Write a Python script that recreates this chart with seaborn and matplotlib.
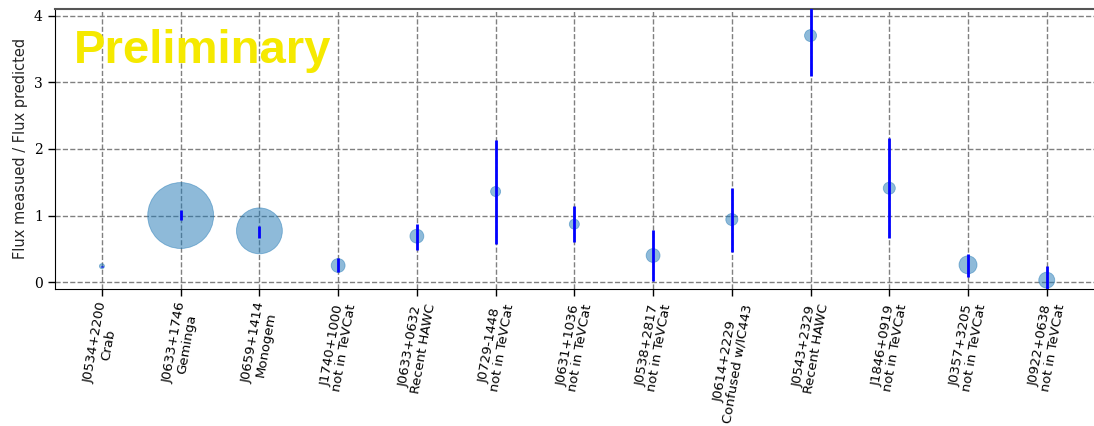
import matplotlib
matplotlib.use("Agg")
import matplotlib.pyplot as plt
import numpy as np
import pandas as pd
import seaborn as sns

# pulsar names and notes for the tick labels
names = ['J0534+2200', 'J0633+1746', 'J0659+1414', 'J1740+1000', 'J0633+0632',
         'J0729-1448', 'J0631+1036', 'J0538+2817', 'J0614+2229', 'J0543+2329',
         'J1846+0919', 'J0357+3205', 'J0922+0638']
notes = ['Crab', 'Geminga', 'Monogem', 'not in TeVCat', 'Recent HAWC',
         'not in TeVCat', 'not in TeVCat', 'not in TeVCat', 'Confused w/IC443',
         'Recent HAWC', 'not in TeVCat', 'not in TeVCat', 'not in TeVCat']

# flux ratio and error range
ratio = [0.24, 1.00, 0.77, 0.25, 0.69, 1.36, 0.87, 0.40, 0.94, 3.70, 1.41, 0.26, 0.03]
lower = [0.23, 0.94, 0.67, 0.16, 0.49, 0.58, 0.60, 0.02, 0.46, 3.10, 0.66, 0.08, -0.12]
upper = [0.25, 1.08, 0.85, 0.36, 0.88, 2.13, 1.14, 0.78, 1.42, 4.30, 2.16, 0.43, 0.25]
# marker area
msize = [13, 2250, 1090, 100, 100, 52, 52, 100, 75, 75, 75, 168, 132]

df = pd.DataFrame({'x': np.arange(len(names)), 'ratio': ratio,
                   'lower': lower, 'upper': upper, 'msize': msize})

sns.set_style("white")
fig = plt.figure(figsize=(10.94, 4.26), dpi=100)
ax = fig.add_axes([0.05, 0.322, 0.95, 0.657])

sns.scatterplot(data=df, x='x', y='ratio', size='msize',
                sizes=(min(msize), max(msize)), size_norm=(min(msize), max(msize)),
                color='#1f77b4', alpha=0.5, edgecolor='#1f77b4', linewidth=0.6,
                legend=False, ax=ax, zorder=3)
ax.errorbar(df['x'], df['ratio'],
            yerr=[df['ratio'] - df['lower'], df['upper'] - df['ratio']],
            fmt='none', ecolor='blue', elinewidth=2, capsize=0, zorder=4)

ax.set_xlim(-0.6, 12.6)
ax.set_ylim(-0.1, 4.1)
ax.set_xticks(df['x'])
ax.set_xticklabels([n + '\n' + t for n, t in zip(names, notes)],
                   rotation=80, ha='center', fontsize=9.5, linespacing=0.95)
ax.set_yticks([0, 1, 2, 3, 4])
ax.set_yticklabels(['0', '1', '2', '3', '4'], fontfamily='DejaVu Serif', fontsize=10)
ax.tick_params(direction='out', length=5, width=1, bottom=True, left=True, colors='black')
ax.set_xlabel('')
ax.set_ylabel('Flux measued / Flux predicted', fontsize=10.5)

ax.grid(True, linestyle='--', color='gray', linewidth=1)
for s in ['left', 'bottom']:
    ax.spines[s].set_color('black')
ax.spines['top'].set_color('#555555')
ax.spines['top'].set_linewidth(1.5)
ax.spines['right'].set_visible(False)

ax.text(0.018, 0.93, 'Preliminary', transform=ax.transAxes, fontsize=34,
        fontweight='bold', family='Liberation Sans', color='#f5e900', va='top', ha='left')

fig.savefig('out.png', dpi=100)
